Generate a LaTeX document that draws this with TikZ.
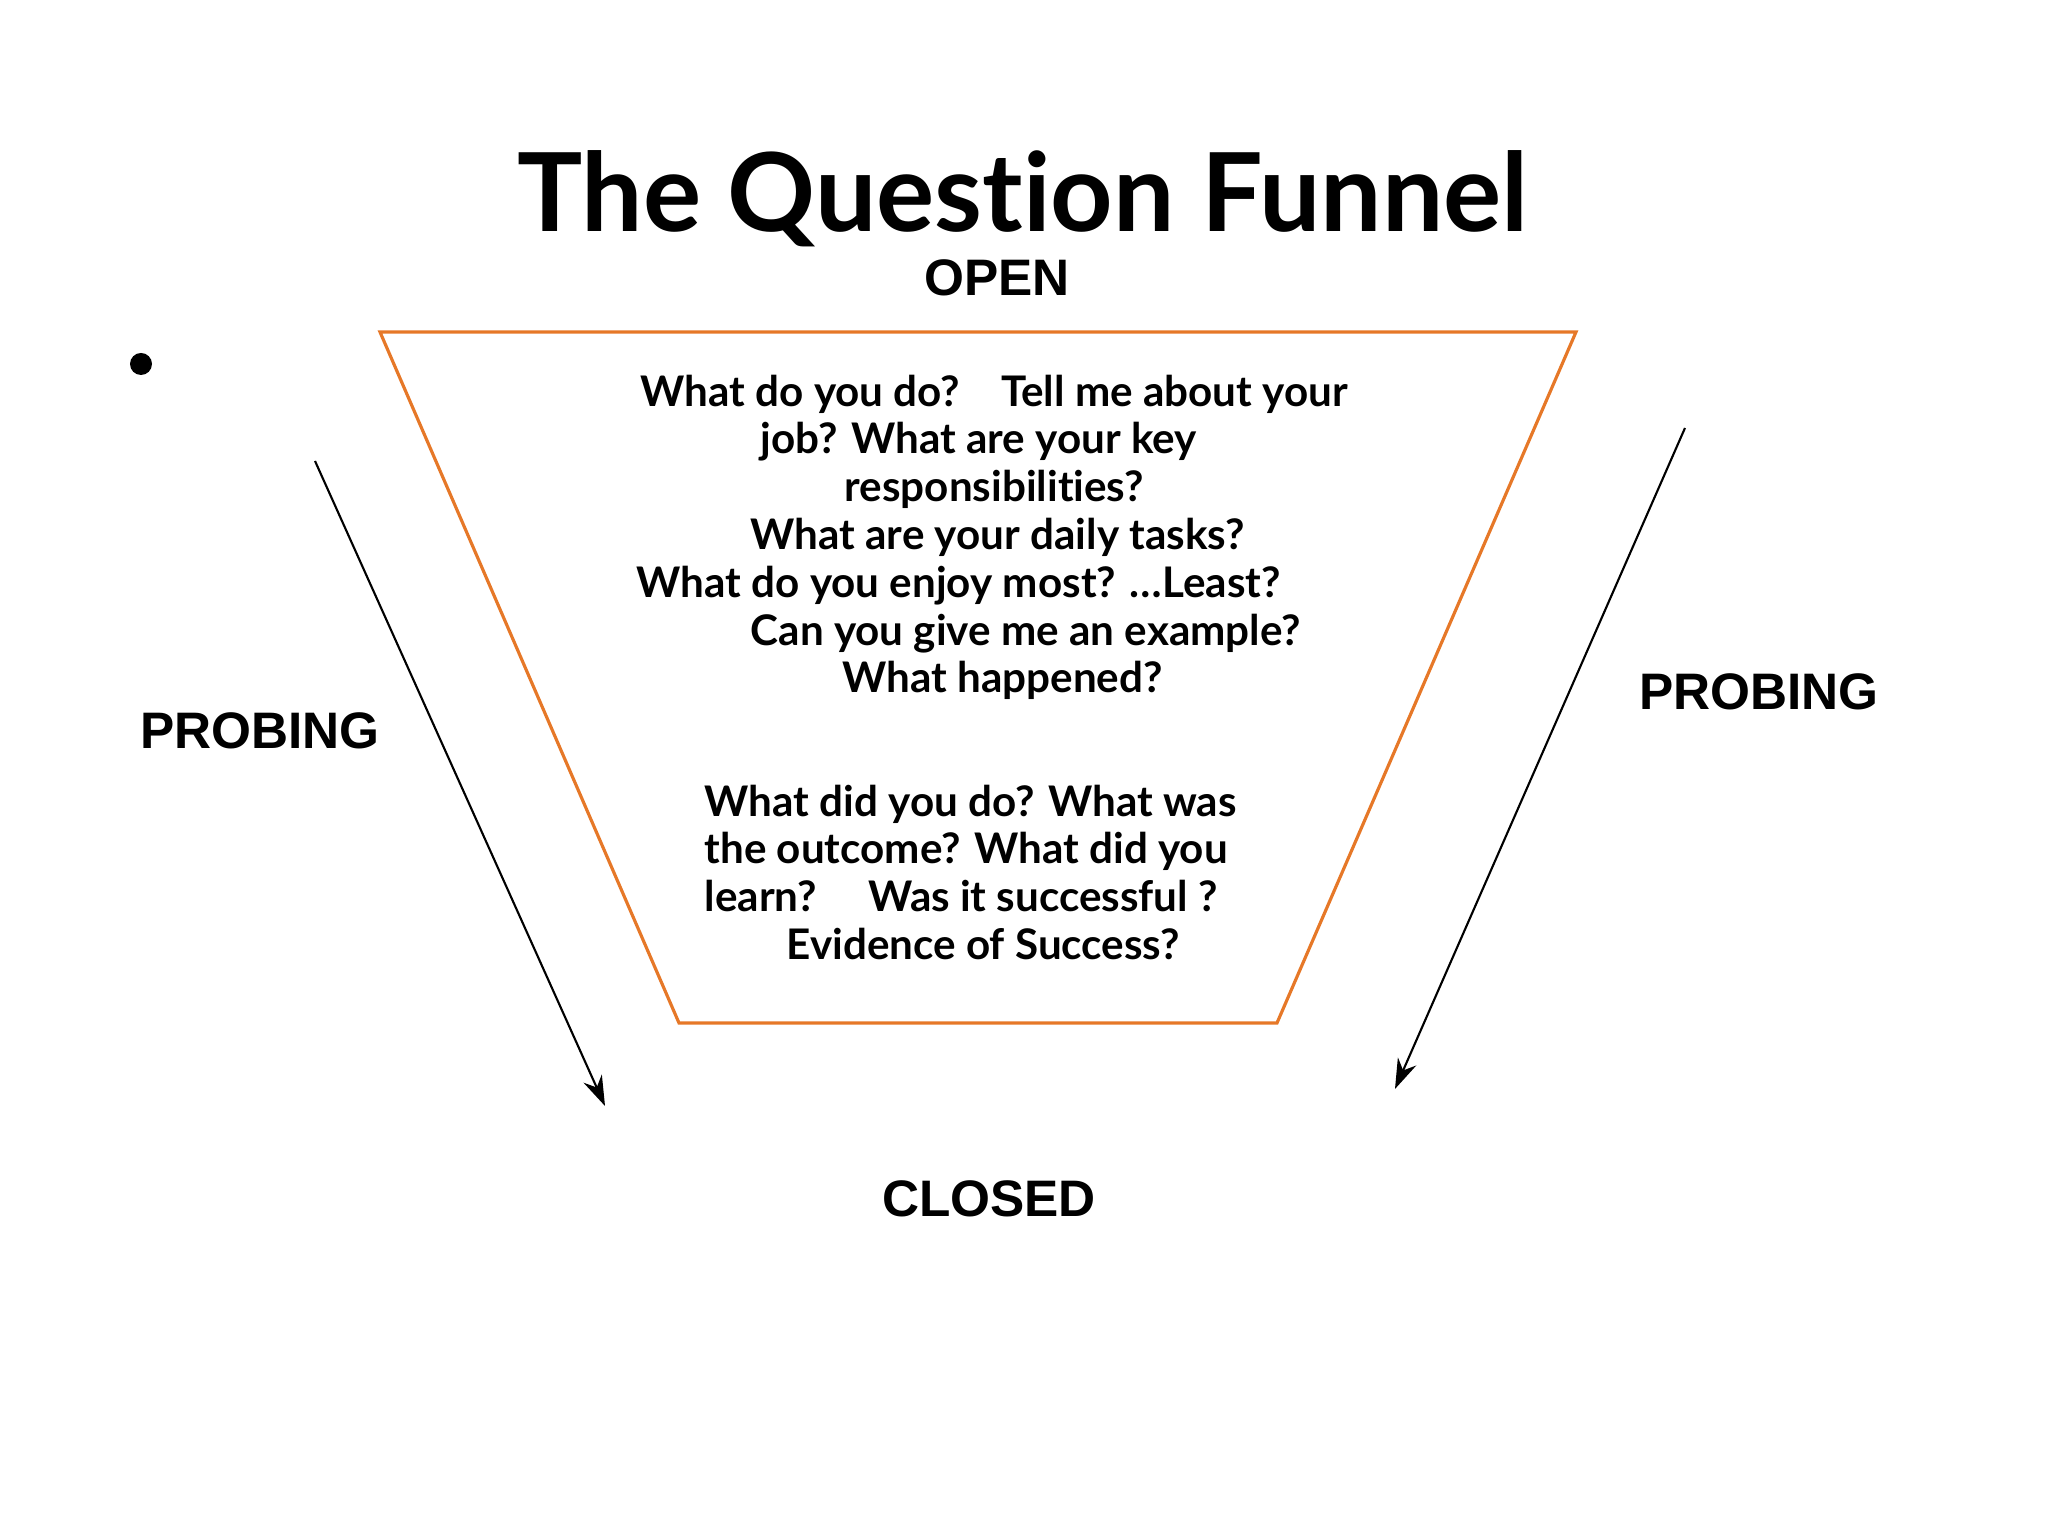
\documentclass[tikz,border=0pt]{standalone}
\usepackage{fontspec}
\setmainfont{Lato}[Ligatures={NoCommon}]
\newfontfamily\arialfont{Liberation Sans}
\usetikzlibrary{arrows.meta}
\definecolor{funnelorange}{RGB}{230,120,40}
\begin{document}
\begin{tikzpicture}
[>={Stealth[length=3mm,width=2mm]},
label/.style={font=\arialfont\bfseries\fontsize{14.6}{17}\selectfont},
question/.style={font=\bfseries\fontsize{12}{13.6}\selectfont,align=left,anchor=north west,inner sep=0pt},]

\useasboundingbox (0,0) rectangle (20.48,15.36);

%Title and labels
\node (title) at (10.23,13.37) {\fontsize{31}{34}\selectfont\bfseries The Question Funnel};
\node[label] (open) at (9.97,12.58) {OPEN};
\node[label] (closed) at (9.89,3.37) {CLOSED};
\node[label] (probL) at (2.60,8.05) {PROBING};
\node[label] (probR) at (17.59,8.44) {PROBING};

%Bullet
\node (dot) at (1.41,11.72)[circle,fill=black,inner sep=0pt,minimum size=2.2mm] {};

%Funnel
\coordinate (TL) at (3.80,12.04);
\coordinate (TR) at (15.76,12.04);
\coordinate (BR) at (12.77,5.13);
\coordinate (BL) at (6.79,5.13);
\draw[funnelorange,line width=0.9pt] (TL) -- (TR) -- (BR) -- (BL) -- cycle;

%Probing arrows
\coordinate (LA) at (3.15,10.75);
\coordinate (LB) at (6.05,4.30);
\coordinate (RA) at (16.85,11.08);
\coordinate (RB) at (13.95,4.47);
\draw[->,line width=0.6pt] (LA) -- (LB);
\draw[->,line width=0.6pt] (RA) -- (RB);

%Questions
\node[question] (q1) at (6.36,11.62) {%
\hspace*{0.04cm}What do you do?\ \ \ \ Tell me about your\\
\hspace*{1.24cm}job? What are your key\\
\hspace*{2.08cm}responsibilities?\\
\hspace*{1.14cm}What are your daily tasks?\\
What do you enjoy most? \ldots Least?\\
\hspace*{1.14cm}Can you give me an example?\\
\hspace*{2.06cm}What happened?};
\node[question] (q2) at (7.04,7.52) {%
What did you do? What was\\
the outcome? What did you\\
learn?\ \ \ \ \ Was it successful ?\\
\hspace*{0.82cm}Evidence of Success?};

\end{tikzpicture}
\end{document}
